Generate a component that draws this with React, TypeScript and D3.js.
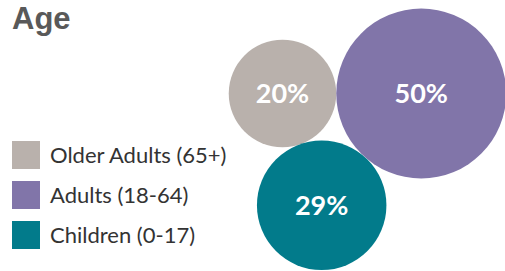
import React from "react";
import * as d3 from "d3";

const title = "Age";
const categories = ["Older Adults (65+)", "Adults (18-64)", "Children (0-17)"];
const values = [20, 50, 29];
const valueLabels = ["20%", "50%", "29%"];
const colors = ["#b9b1ac", "#8175a9", "#027b8b"];

export default function App() {
  const W = 505;
  const H = 271;
  const font = "Lato, 'Open Sans', sans-serif";

  const rScale = d3.scaleSqrt().domain([0, 50]).range([0, 85]);
  const radii = values.map((v) => rScale(v));
  const [ra, rb, rc] = radii;

  // chain packing: first two tangent side by side, third tangent to both, below
  const ax = 282.5;
  const ay = 93.5;
  const d = ra + rb;
  const da = ra + rc;
  const db = rb + rc;
  const px = (da * da - db * db + d * d) / (2 * d);
  const py = Math.sqrt(Math.max(0, da * da - px * px));
  const centers: [number, number][] = [
    [ax, ay],
    [ax + d, ay],
    [ax + px, ay + py],
  ];

  const legendY = d3.scaleBand<number>().domain([0, 1, 2]).range([135, 255]);

  return (
    <svg
      width={W}
      height={H}
      style={{ position: "absolute", left: 0, top: 0, display: "block" }}
    >
      <rect width={W} height={H} fill="#ffffff" />
      <text
        x={12}
        y={29}
        fontFamily="'Liberation Sans', Arial, sans-serif"
        fontWeight={700}
        fontSize={31}
        fill="#595959"
      >
        {title}
      </text>

      {values.map((v, i) => (
        <g key={i}>
          <circle
            cx={centers[i][0]}
            cy={centers[i][1]}
            r={radii[i]}
            fill={colors[i]}
          />
          <text
            x={centers[i][0]}
            y={centers[i][1]}
            dy="0.36em"
            textAnchor="middle"
            fontFamily={font}
            fontWeight={700}
            fontSize={27}
            fill="#ffffff"
          >
            {valueLabels[i]}
          </text>
        </g>
      ))}

      {categories.map((c, i) => {
        const y = legendY(i)!;
        return (
          <g key={c}>
            <rect x={12} y={y + 6} width={28} height={28} fill={colors[i]} />
            <text
              x={50}
              y={y + 28}
              fontFamily={font}
              fontSize={22}
              fill="#333333"
            >
              {c}
            </text>
          </g>
        );
      })}
    </svg>
  );
}
